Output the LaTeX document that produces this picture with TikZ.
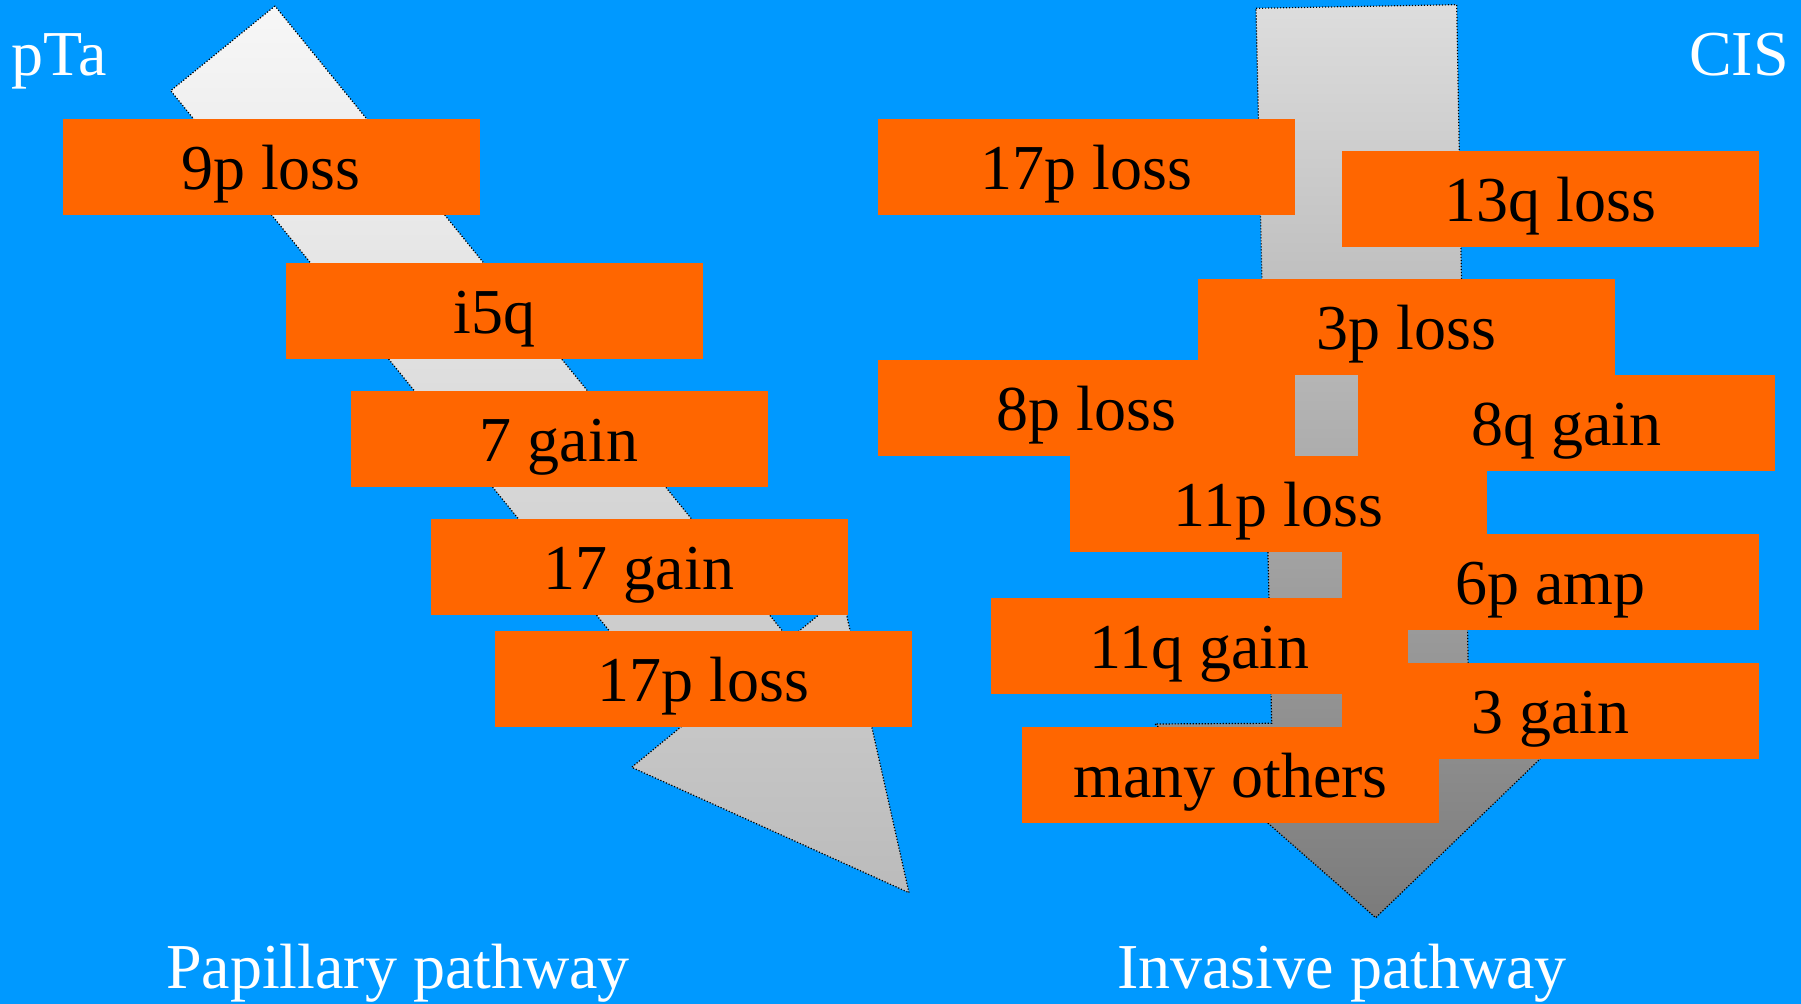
\documentclass[tikz,border=0pt]{standalone}
\usepackage{fontspec}
\setmainfont{Liberation Serif}
\definecolor{bgblue}{HTML}{0099FF}
\definecolor{boxorange}{HTML}{FF6600}
\definecolor{lTop}{HTML}{F7F7F7}
\definecolor{lBot}{HTML}{BBBBBB}
\definecolor{rTop}{HTML}{DDDDDD}
\definecolor{rBot}{HTML}{7B7B7B}
\begin{document}
\begin{tikzpicture}[x=0.5pt,y=-0.5pt,
  box/.style={fill=boxorange, minimum width=208.5pt, minimum height=48pt,
    inner sep=0pt, text height=24pt, text depth=1pt,
    font=\fontsize{32}{37}\selectfont, text=black},
  lbl/.style={text=white, font=\fontsize{32}{37}\selectfont, inner sep=0pt},
  arrowshape/.style={draw=black, line width=0.6pt, dash pattern=on 0.6pt off 0.9pt}]
\useasboundingbox (0,0) rectangle (1801,1004);
\fill[bgblue] (0,0) rectangle (1801,1004);

% papillary arrow
\draw[arrowshape, top color=lTop, bottom color=lBot]
  (275,6) -- (170.7,90.7) -- (684.8,723.8) -- (631.7,767.3) -- (909,892.7)
  -- (842.3,595.8) -- (789.1,639.1) -- cycle;

% invasive arrow
\draw[arrowshape, top color=rTop, bottom color=rBot]
  (1256,8.3) -- (1456.7,4.7) -- (1469.1,718.6) -- (1585,715.5) -- (1375.7,917.7)
  -- (1155,724) -- (1271.7,723.3) -- cycle;

% papillary boxes
\node[box] (p9) at (271,167) {9p loss};
\node[box] (pi5q) at (494.5,311) {i5q};
\node[box] (p7) at (559,439) {7 gain};
\node[box] (p17g) at (639,567) {17 gain};
\node[box] (p17p) at (703.5,679) {17p loss};

% invasive boxes
\node[box] (i17p) at (1086.5,167) {17p loss};
\node[box] (i13q) at (1550.5,199) {13q loss};
\node[box] (i3p) at (1406.5,327) {3p loss};
\node[box] (i8p) at (1086.5,408) {8p loss};
\node[box] (i8q) at (1566.5,423) {8q gain};
\node[box] (i11p) at (1278.5,504) {11p loss};
\node[box] (i6p) at (1550.5,582) {6p amp};
\node[box] (i11q) at (1199.5,646) {11q gain};
\node[box] (i3g) at (1550.5,711) {3 gain};
\node[box] (imany) at (1230.5,775) {many others};

% labels
\node[lbl, anchor=base west] (pta) at (11,76) {pTa};
\node[lbl, anchor=base east] (cis) at (1789,76) {CIS};
\node[lbl, anchor=base] (pap) at (398,989) {Papillary pathway};
\node[lbl, anchor=base] (inv) at (1342,989) {Invasive pathway};
\end{tikzpicture}
\end{document}
